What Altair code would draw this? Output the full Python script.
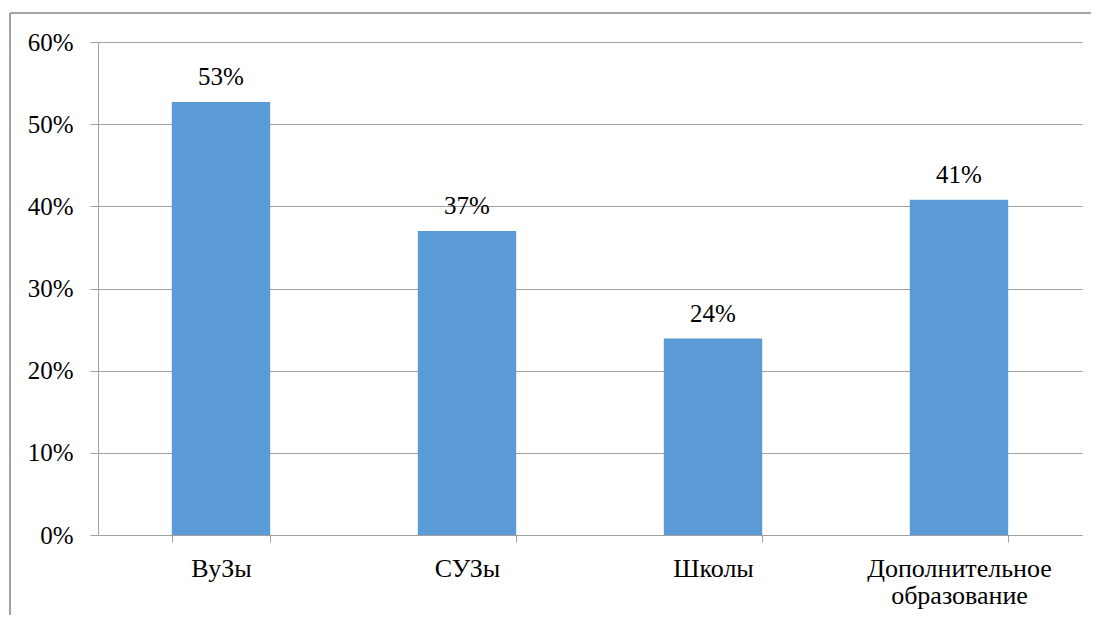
import altair as alt
import pandas as pd

categories = ["ВуЗы", "СУЗы", "Школы", "Дополнительное\nобразование"]
values = [0.527, 0.370, 0.239, 0.408]
labels = ["53%", "37%", "24%", "41%"]

df = pd.DataFrame({"cat": categories, "val": values, "lab": labels})

FONT = "Liberation Serif"
FS = 25
GRAY = "#a0a0a0"

x = alt.X("cat:N", sort=categories, title=None,
          scale=alt.Scale(paddingInner=0.6, paddingOuter=0.3),
          axis=alt.Axis(labelAngle=0, labelFont=FONT, labelFontSize=26, labelColor="#000",
                        labelPadding=13, labelLineHeight=27, labelLimit=400,
                        labelExpr="split(datum.label, '\\n')",
                        domainColor=GRAY, tickColor=GRAY, tickSize=7, tickBand="extent",
                        grid=False))
y = alt.Y("val:Q", title=None,
          scale=alt.Scale(domain=[0, 0.6], nice=False),
          axis=alt.Axis(format=".0%", values=[0, 0.1, 0.2, 0.3, 0.4, 0.5, 0.6],
                        labelFont=FONT, labelFontSize=FS, labelColor="#000",
                        labelPadding=17, domainColor=GRAY, tickColor=GRAY, tickSize=8,
                        gridColor=GRAY, gridWidth=1))

bars = alt.Chart(df).mark_bar(color="#5B9BD5").encode(x=x, y=y)
text = alt.Chart(df).mark_text(font=FONT, fontSize=FS, color="#000", dy=-17,
                               baseline="alphabetic").encode(
    x=alt.X("cat:N", sort=categories), y="val:Q", text="lab:N")

border = alt.Chart(df).mark_rule(color=GRAY, strokeWidth=1.2).encode(
    x=alt.value(-88), x2=alt.value(1100), y=alt.value(-29))
border2 = alt.Chart(df).mark_rule(color=GRAY, strokeWidth=1.2).encode(
    x=alt.value(-88), y=alt.value(-29), y2=alt.value(700))

chart = alt.layer(border, border2, bars, text).properties(
    width=984, height=493,
    autosize=alt.AutoSizeParams(type="none"),
    padding={"left": 90, "top": 34, "right": 9, "bottom": 80},
).configure(background="white").configure_view(stroke=None)

chart.save("out.html", embed_options={"renderer": "svg", "actions": False})
